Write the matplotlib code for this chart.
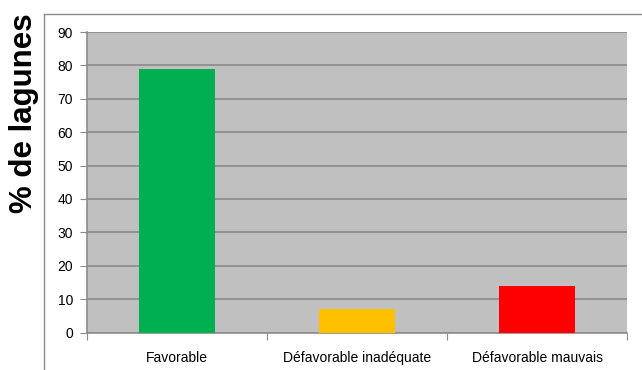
import numpy as np
import matplotlib.pyplot as plt
from matplotlib.lines import Line2D

categories = ['Favorable', 'Défavorable inadéquate', 'Défavorable mauvais']
pct_lagunes = [79, 7, 14]
colors = ['#00B050', '#FFC000', '#FF0000']

plt.rcParams['font.family'] = ['Liberation Sans', 'DejaVu Sans']

fig = plt.figure(figsize=(6.42, 3.70), dpi=100)
fig.patch.set_facecolor('white')

# cadre du graphique
fig.add_artist(Line2D([44/642, 44/642], [0, 1 - 14/370], transform=fig.transFigure, color='#8c8c8c', lw=1))
fig.add_artist(Line2D([44/642, 1], [1 - 14/370, 1 - 14/370], transform=fig.transFigure, color='#8c8c8c', lw=1))

ax = fig.add_axes([87/642, 37.5/370, 540/642, 300.5/370])
ax.set_facecolor('#C0C0C0')

x = np.arange(len(categories))
ax.bar(x, pct_lagunes, width=0.42, color=colors, zorder=3)

ax.set_xlim(-0.5, len(categories) - 0.5)
ax.set_ylim(0, 90)
ax.set_yticks(range(0, 91, 10))
ax.yaxis.grid(True, color='#8a8a8a', lw=1.2, zorder=1)
ax.set_axisbelow(True)

ax.set_xticks(np.arange(-0.5, len(categories), 1))
ax.set_xticklabels([])
ax.set_xticks(x, minor=True)
ax.set_xticklabels(categories, minor=True, fontsize=10)
ax.tick_params(axis='x', which='minor', length=0, pad=13)
ax.tick_params(axis='x', which='major', length=5, color='#8c8c8c', direction='out')
ax.tick_params(axis='y', length=5, color='#8c8c8c', direction='out', labelsize=10, pad=5)

for s in ['top', 'right']:
    ax.spines[s].set_visible(False)
for s in ['left', 'bottom']:
    ax.spines[s].set_color('#8c8c8c')
    ax.spines[s].set_linewidth(1.2)

fig.text(24/642, 1 - 113/370, '% de lagunes', rotation=90, fontsize=22.5, fontweight='bold',
         ha='center', va='center')

fig.savefig('out.png', dpi=100)
